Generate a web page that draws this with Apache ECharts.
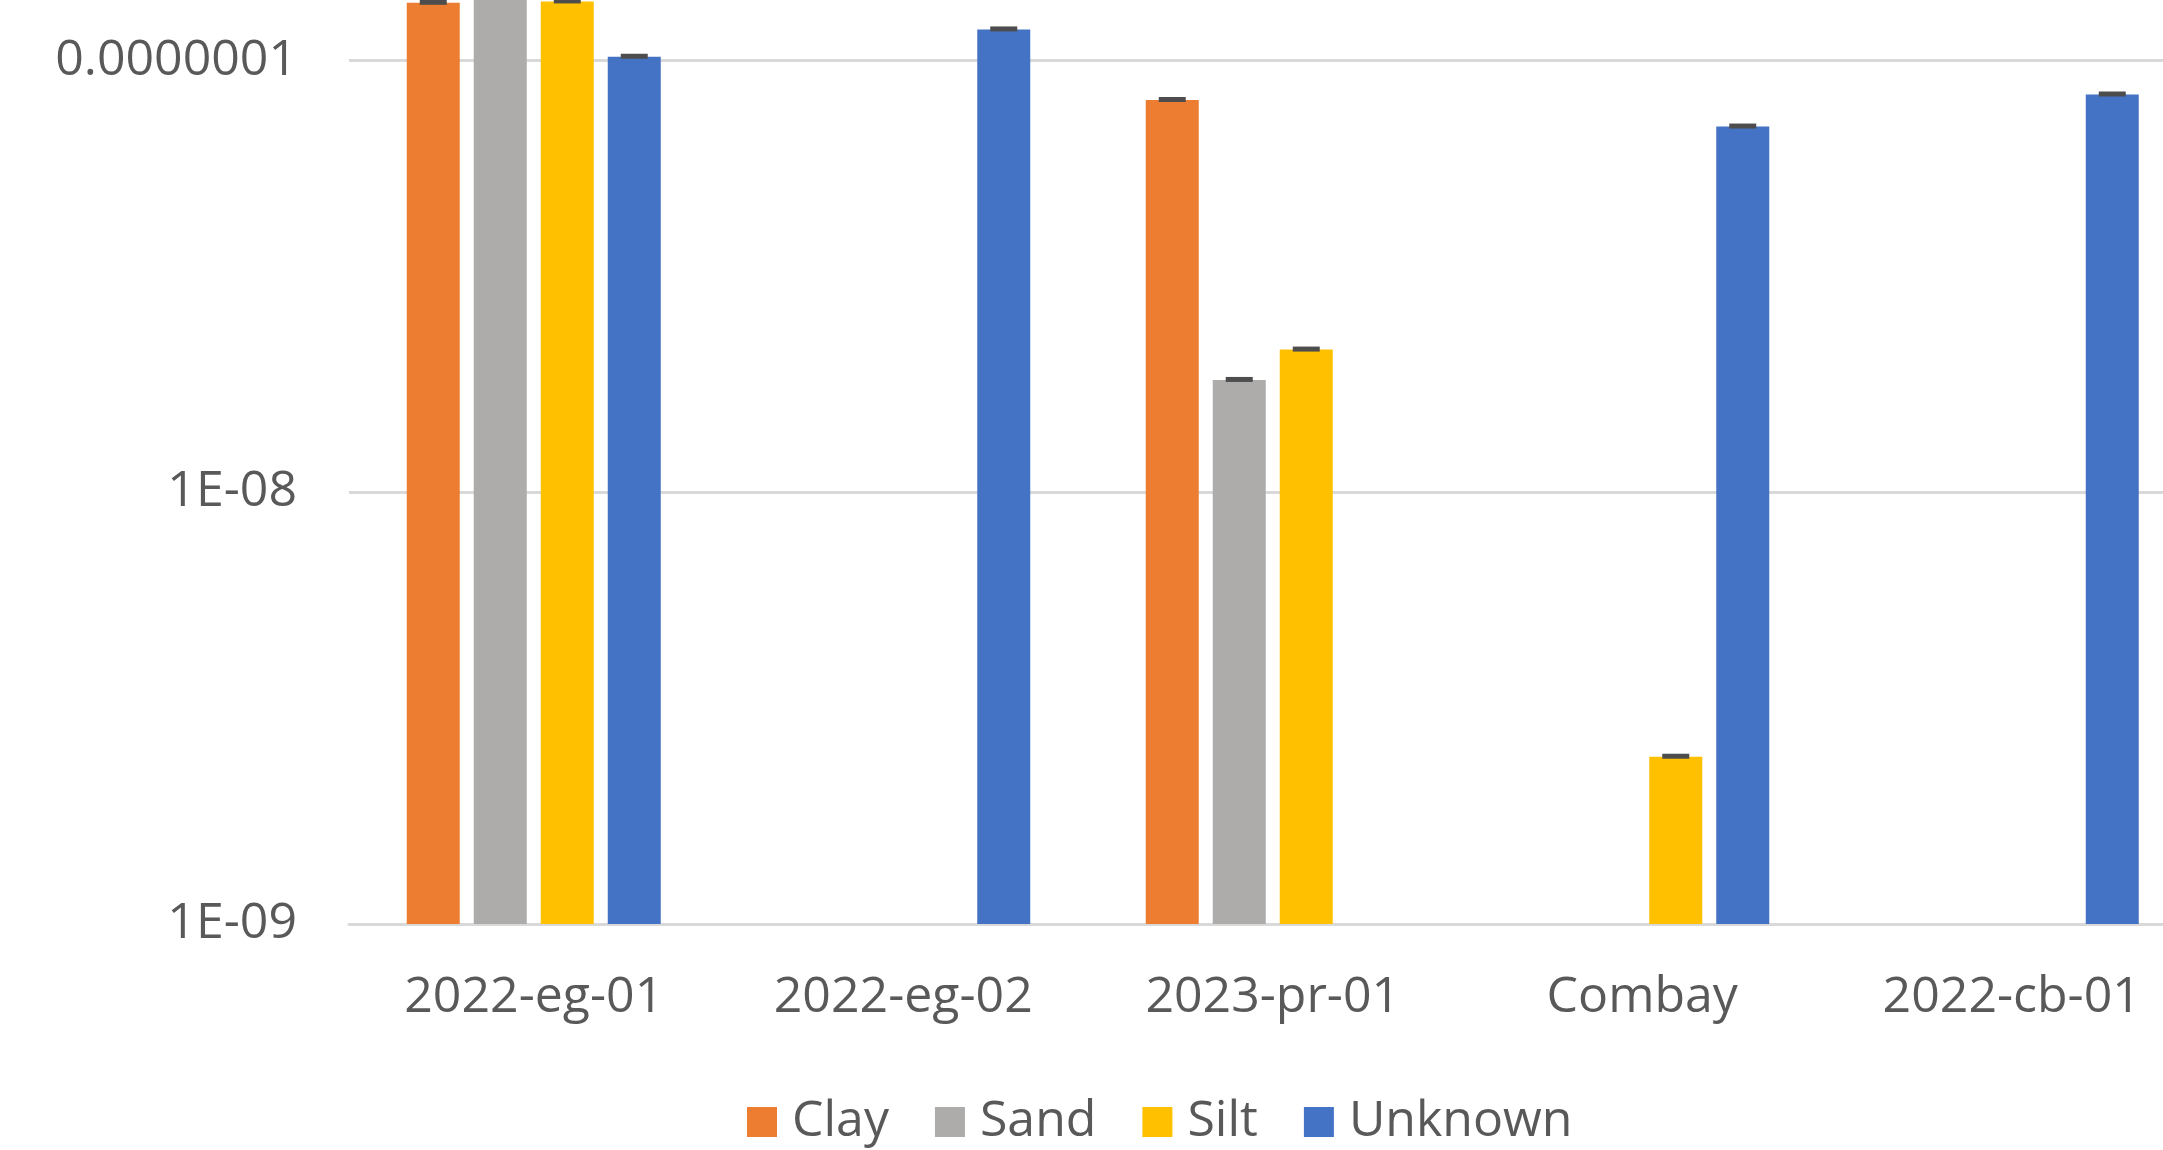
<!DOCTYPE html>
<html>
<head>
<meta charset="utf-8">
<script src="https://cdn.jsdelivr.net/npm/echarts@6/dist/echarts.min.js"></script>
<style>
html,body{margin:0;padding:0;background:#fff;}
#chart{width:2163px;height:1150px;}
</style>
</head>
<body>
<div id="chart"></div>
<script>
const categories = ['2022-eg-01', '2022-eg-02', '2023-pr-01', 'Combay', '2022-cb-01'];
const seriesNames = ['Clay', 'Sand', 'Silt', 'Unknown'];
const clay    = [1.36e-7, null, 8.1e-8, null, null];
const sand    = [1.6e-7, null, 1.82e-8, null, null];
const silt    = [1.37e-7, null, 2.14e-8, 2.44e-9, null];
const unknown = [1.02e-7, 1.18e-7, null, 7.03e-8, 8.34e-8];
const tickLabels = {'-9': '1E-09', '-8': '1E-08', '-7': '0.0000001', '-6': '0.000001'};

const colors = ['#ED7D31', '#AEACAB', '#FFC000', '#4472C4'];
const allData = [clay, sand, silt, unknown];
const BAR_W = 53, GAP = 14;
const FONT = '"Open Sans", sans-serif';
const TXT = '#595959';

const chart = echarts.init(document.getElementById('chart'), null, {renderer: 'canvas'});

const series = allData.map((d, i) => ({
  name: seriesNames[i],
  type: 'bar',
  data: d,
  barWidth: BAR_W,
  barGap: (GAP / BAR_W * 100).toFixed(2) + '%',
  itemStyle: {color: colors[i]},
  z: 2
}));

const capData = [];
allData.forEach((d, s) => d.forEach((v, c) => { if (v != null) capData.push([c, v, s]); }));
series.push({
  type: 'custom',
  name: 'err',
  data: capData,
  z: 5,
  silent: true,
  renderItem: function (params, api) {
    const p = api.coord([api.value(0), api.value(1)]);
    const s = api.value(2);
    const off = (s - 1.5) * (BAR_W + GAP);
    return {
      type: 'rect',
      shape: {x: p[0] + off - 13.5, y: p[1] - 3, width: 27, height: 5},
      style: {fill: '#4d4d4d'}
    };
  }
});

chart.setOption({
  animation: false,
  backgroundColor: '#ffffff',
  grid: {left: 349, right: -33.5, top: -371.3, bottom: 226, containLabel: false, outerBoundsMode: 'none'},
  legend: {
    data: seriesNames,
    left: 742,
    top: 1092,
    icon: 'rect',
    itemWidth: 30,
    itemHeight: 30,
    itemGap: 46,
    textStyle: {fontFamily: FONT, fontSize: 50, color: TXT, padding: [0, 0, 0, 10]}
  },
  xAxis: {
    type: 'category',
    data: categories,
    axisTick: {show: false},
    axisLine: {lineStyle: {color: '#d9d9d9', width: 3}},
    axisLabel: {fontFamily: FONT, fontSize: 50, color: TXT, margin: 49}
  },
  yAxis: {
    type: 'log',
    logBase: 10,
    min: 1e-9,
    max: 1e-6,
    startValue: 1e-9,
    axisLine: {show: false},
    axisTick: {show: false},
    splitLine: {lineStyle: {color: '#d9d9d9', width: 3}},
    axisLabel: {
      fontFamily: FONT, fontSize: 50, color: TXT, margin: 52,
      formatter: v => tickLabels[String(Math.round(Math.log10(v)))] || ''
    }
  },
  series: series
});
</script>
</body>
</html>
